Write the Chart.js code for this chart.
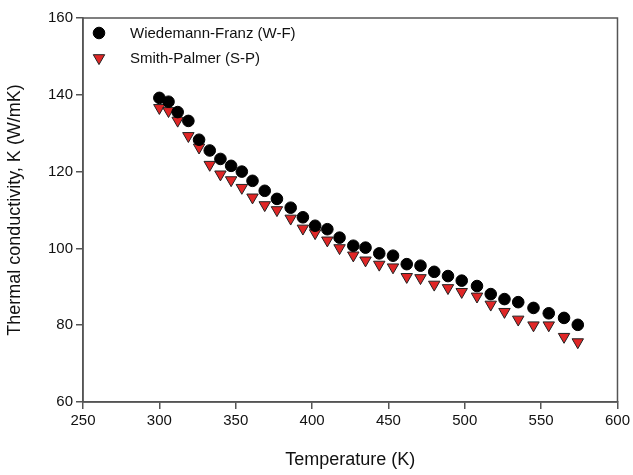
<!DOCTYPE html>
<html lang="en">
<head>
    <meta charset="UTF-8">
    <title>Thermal conductivity vs temperature</title>
    <style>
        body {margin: 0; background: #fff;}
        #wrap {width: 633px; height: 475px;}
    </style>
    <script src="https://cdn.jsdelivr.net/npm/chart.js"></script>
</head>
<body>
    <div id="wrap"><canvas id="grafico"></canvas></div>

    <script>
        // temperature (K)
        const temperature = [300, 306, 312, 319, 326, 333, 340, 347, 354, 361, 369, 377, 386, 394, 402, 410, 418, 427, 435, 444, 453, 462, 471, 480, 489, 498, 508, 517, 526, 535, 545, 555, 565, 574];
        // Wiedemann-Franz (W/mK)
        const wiedemannFranz = [139.2, 138.2, 135.5, 133.2, 128.3, 125.5, 123.3, 121.5, 120.0, 117.6, 115.0, 112.9, 110.6, 108.1, 105.9, 105.0, 102.8, 100.7, 100.2, 98.7, 98.1, 95.9, 95.5, 93.9, 92.8, 91.6, 90.2, 88.1, 86.8, 86.0, 84.5, 83.1, 81.9, 80.1];
        // Smith-Palmer (W/mK)
        const smithPalmer = [136.6, 135.8, 133.3, 129.3, 126.3, 121.8, 119.3, 117.8, 115.8, 113.3, 111.3, 110.0, 107.8, 105.2, 104.0, 102.1, 100.1, 98.2, 96.9, 95.8, 95.1, 92.6, 92.3, 90.6, 89.7, 88.7, 87.5, 85.4, 83.5, 81.5, 80.0, 80.0, 77.0, 75.6];
        const xTicks = [250, 300, 350, 400, 450, 500, 550, 600];
        const yTicks = [60, 80, 100, 120, 140, 160];

        const fontFamily = "'Liberation Sans', Arial, sans-serif";
        const axisColor = '#555';

        // frame around the plot area
        const cornice = {
            id: 'cornice',
            afterDraw(chart) {
                const a = chart.chartArea, ctx = chart.ctx;
                ctx.save();
                ctx.strokeStyle = axisColor;
                ctx.lineWidth = 1.5;
                ctx.strokeRect(a.left, a.top, a.right - a.left, a.bottom - a.top);
                ctx.restore();
            }
        };

        // legend drawn inside the plot, top left
        const legendaInterna = {
            id: 'legendaInterna',
            afterDraw(chart) {
                const ctx = chart.ctx, a = chart.chartArea;
                ctx.save();
                ctx.font = '15px ' + fontFamily;
                ctx.textBaseline = 'middle';
                chart.data.datasets.forEach((ds, i) => {
                    const y = a.top + 15 + i * 25;
                    const x = a.left + 16;
                    ctx.fillStyle = ds.backgroundColor;
                    ctx.strokeStyle = ds.borderColor;
                    ctx.lineWidth = 1;
                    Chart.helpers.drawPoint(ctx, {
                        pointStyle: ds.pointStyle,
                        radius: ds.pointRadius,
                        rotation: ds.pointRotation || 0,
                        borderWidth: 1
                    }, x, y);
                    ctx.fillStyle = '#111';
                    ctx.fillText(ds.label, a.left + 47, y + 1);
                });
                ctx.restore();
            }
        };

        new Chart(document.getElementById('grafico'), {
            type: 'scatter',
            data: {
                datasets: [{
                    label: 'Wiedemann-Franz (W-F)',
                    data: temperature.map((t, i) => ({x: t, y: wiedemannFranz[i]})),
                    pointStyle: 'circle',
                    pointRadius: 5.8,
                    backgroundColor: '#000',
                    borderColor: '#000',
                    borderWidth: 1
                }, {
                    label: 'Smith-Palmer (S-P)',
                    data: temperature.map((t, i) => ({x: t, y: smithPalmer[i]})),
                    pointStyle: 'triangle',
                    pointRotation: 180,
                    pointRadius: 6.6,
                    backgroundColor: '#e02626',
                    borderColor: '#222',
                    borderWidth: 1
                }]
            },
            options: {
                responsive: true,
                maintainAspectRatio: false,
                animation: false,
                layout: {padding: {top: 18, right: 15, left: 0, bottom: 0}},
                plugins: {
                    legend: {display: false},
                    tooltip: {enabled: false}
                },
                scales: {
                    x: {
                        type: 'linear',
                        min: 250, max: 600,
                        afterBuildTicks: s => { s.ticks = xTicks.map(v => ({value: v})); },
                        afterFit: s => { s.height = 73; },
                        grid: {drawOnChartArea: false, color: axisColor, tickLength: 7, lineWidth: 1.5},
                        border: {color: axisColor, width: 1.5},
                        ticks: {color: '#111', font: {family: fontFamily, size: 15}, padding: 3, maxRotation: 0},
                        title: {display: true, text: 'Temperature (K)', color: '#111',
                                font: {family: fontFamily, size: 18}, padding: {top: 8}}
                    },
                    y: {
                        min: 60, max: 160,
                        afterBuildTicks: s => { s.ticks = yTicks.map(v => ({value: v})); },
                        afterFit: s => { s.width = 83; },
                        grid: {drawOnChartArea: false, color: axisColor, tickLength: 7, lineWidth: 1.5},
                        border: {color: axisColor, width: 1.5},
                        ticks: {color: '#111', font: {family: fontFamily, size: 15}, padding: 3},
                        title: {display: true, text: 'Thermal conductivity, K (W/mK)', color: '#111',
                                font: {family: fontFamily, size: 18}, padding: {bottom: 6}}
                    }
                }
            },
            plugins: [cornice, legendaInterna]
        });
    </script>
</body>
</html>
